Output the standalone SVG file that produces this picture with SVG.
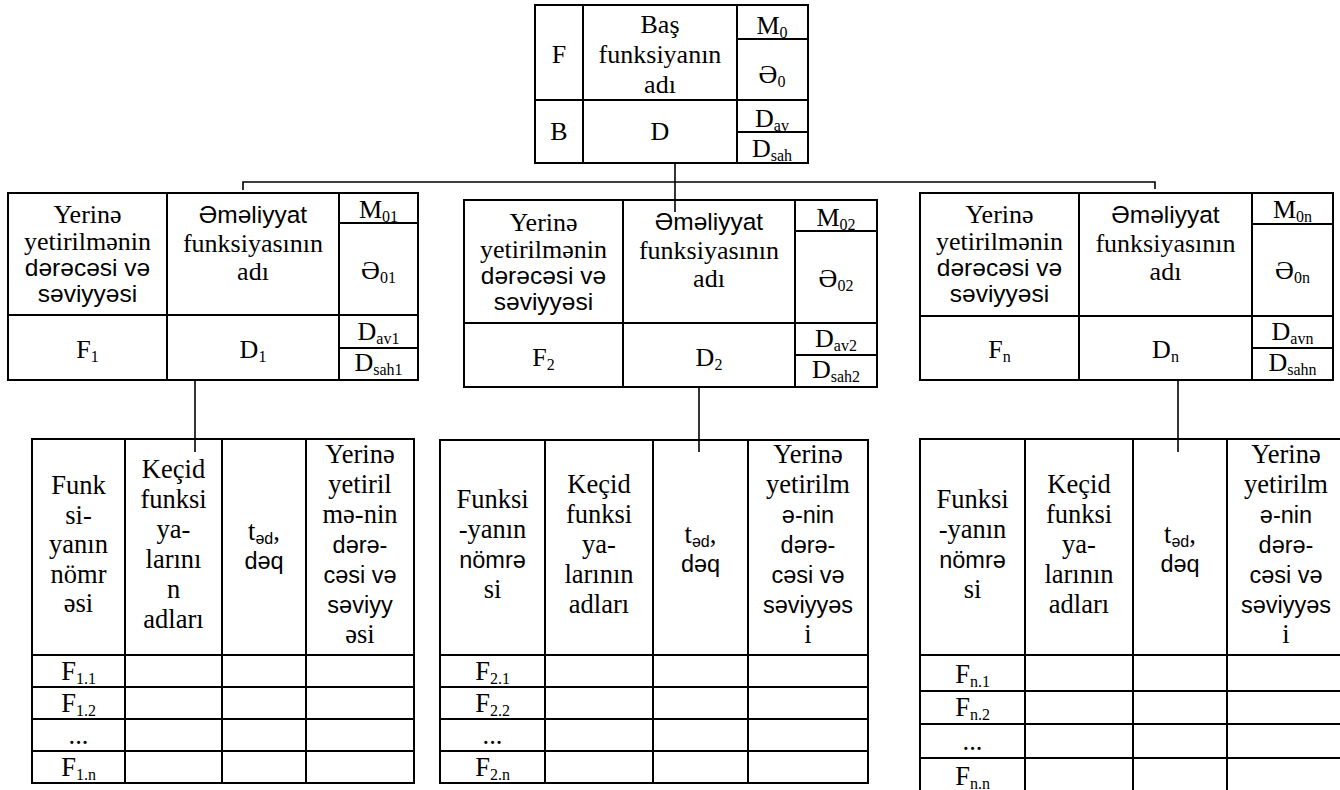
<svg xmlns="http://www.w3.org/2000/svg" width="1340" height="790" viewBox="0 0 1340 790">
  <style>
    text { font-family: "Liberation Serif", "Times New Roman", "DejaVu Serif", serif; font-size: 26px; fill: #000; text-anchor: middle; }
    .b { font-size: 26px; }
    .t { font-size: 26.5px; }
    .a { font-family: "Liberation Sans", Arial, sans-serif; font-size: 24.5px; }
    .at { font-family: "Liberation Sans", Arial, sans-serif; font-size: 23.5px; }
    .sub { font-size: 16px; }
    .grid { fill: none; stroke: #000; stroke-width: 2; }
    .link { fill: none; stroke: #000; stroke-width: 1.6; }
  </style>

  <rect width="1340" height="790" fill="#fff"/>

  <!-- connectors -->
  <g id="connectors" class="link">
    <path d="M675 163V212"/>
    <path d="M243 190V182H1155V189"/>
    <path d="M195 380V452"/>
    <path d="M699 387V452"/>
    <path d="M1178 380V452"/>
  </g>

  <!-- main function -->
  <g id="main-function">
    <path class="grid" d="M535 5H808V163H535Z M583 5V163 M737 5V163 M535 100H808 M737 39H808 M737 132H808"/>
    <text x="559" y="63">F</text>
    <text x="660" y="33">Baş</text>
    <text x="660" y="63">funksiyanın</text>
    <text x="660" y="93">adı</text>
    <text x="772" y="34">M<tspan class="sub" dy="4">0</tspan></text>
    <text x="772" y="83">Ə<tspan class="sub" dy="4">0</tspan></text>
    <text x="559" y="140">B</text>
    <text x="660" y="140">D</text>
    <text x="772" y="127">D<tspan class="sub" dy="4">av</tspan></text>
    <text x="772" y="157">D<tspan class="sub" dy="4">sah</tspan></text>
  </g>

  <!-- operation function 1 -->
  <g id="operation-1" transform="translate(8,193)">
    <path class="grid" d="M0 0H410V187H0Z M159 0V187 M331 0V187 M0 122H410 M331 30H410 M331 155H410"/>
    <text class="b" x="79.5" y="30">Yerinə</text>
    <text class="b" x="79.5" y="57">yetirilmənin</text>
    <text class="a" x="79.5" y="83">dərəcəsi və</text>
    <text class="a" x="79.5" y="109">səviyyəsi</text>
    <text class="a" x="245" y="30">Əməliyyat</text>
    <text class="b" x="245" y="58.5">funksiyasının</text>
    <text class="b" x="245" y="87">adı</text>
    <text x="370.5" y="25">M<tspan class="sub" dy="4">01</tspan></text>
    <text x="370.5" y="86">Ə<tspan class="sub" dy="4">01</tspan></text>
    <text x="79.5" y="165">F<tspan class="sub" dy="4">1</tspan></text>
    <text x="245" y="165">D<tspan class="sub" dy="4">1</tspan></text>
    <text x="370.5" y="147">D<tspan class="sub" dy="4">av1</tspan></text>
    <text x="370.5" y="178">D<tspan class="sub" dy="4">sah1</tspan></text>
  </g>

  <!-- operation function 2 -->
  <g id="operation-2" transform="translate(464,200)">
    <path class="grid" d="M0 0H413V187H0Z M159 0V187 M331 0V187 M0 123H413 M331 31H413 M331 155H413"/>
    <text class="b" x="79.5" y="31">Yerinə</text>
    <text class="b" x="79.5" y="58">yetirilmənin</text>
    <text class="a" x="79.5" y="84">dərəcəsi və</text>
    <text class="a" x="79.5" y="110">səviyyəsi</text>
    <text class="a" x="245" y="30">Əməliyyat</text>
    <text class="b" x="245" y="58.5">funksiyasının</text>
    <text class="b" x="245" y="87">adı</text>
    <text x="372" y="26">M<tspan class="sub" dy="4">02</tspan></text>
    <text x="372" y="87">Ə<tspan class="sub" dy="4">02</tspan></text>
    <text x="79.5" y="166">F<tspan class="sub" dy="4">2</tspan></text>
    <text x="245" y="166">D<tspan class="sub" dy="4">2</tspan></text>
    <text x="372" y="147">D<tspan class="sub" dy="4">av2</tspan></text>
    <text x="372" y="178">D<tspan class="sub" dy="4">sah2</tspan></text>
  </g>

  <!-- operation function n -->
  <g id="operation-n" transform="translate(920,193)">
    <path class="grid" d="M0 0H413V187H0Z M159 0V187 M332 0V187 M0 123H413 M332 31H413 M332 155H413"/>
    <text class="b" x="79.5" y="30">Yerinə</text>
    <text class="b" x="79.5" y="57">yetirilmənin</text>
    <text class="a" x="79.5" y="83">dərəcəsi və</text>
    <text class="a" x="79.5" y="109">səviyyəsi</text>
    <text class="a" x="245.5" y="30">Əməliyyat</text>
    <text class="b" x="245.5" y="58.5">funksiyasının</text>
    <text class="b" x="245.5" y="87">adı</text>
    <text x="372.5" y="25">M<tspan class="sub" dy="4">0n</tspan></text>
    <text x="372.5" y="86">Ə<tspan class="sub" dy="4">0n</tspan></text>
    <text x="79.5" y="165">F<tspan class="sub" dy="4">n</tspan></text>
    <text x="245.5" y="165">D<tspan class="sub" dy="4">n</tspan></text>
    <text x="372.5" y="147">D<tspan class="sub" dy="4">avn</tspan></text>
    <text x="372.5" y="178">D<tspan class="sub" dy="4">sahn</tspan></text>
  </g>

  <!-- transition table 1 -->
  <g id="table-1">
    <path class="grid" d="M32 439H414V783H32Z M125 439V783 M222 439V783 M306 439V783 M32 655H414 M32 687H414 M32 719H414 M32 751H414"/>
    <text class="t" x="78.5" y="494">Funk</text>
    <text class="t" x="78.5" y="523.5">si-</text>
    <text class="t" x="78.5" y="553">yanın</text>
    <text class="t" x="78.5" y="582.5">nömr</text>
    <text class="t" x="78.5" y="612">əsi</text>
    <text class="t" x="173.5" y="478">Keçid</text>
    <text class="t" x="173.5" y="508">funksi</text>
    <text class="t" x="173.5" y="538">ya-</text>
    <text class="t" x="173.5" y="568">larını</text>
    <text class="t" x="173.5" y="598">n</text>
    <text class="t" x="173.5" y="628">adları</text>
    <text class="t" x="264" y="540">t<tspan class="at sub" dy="4">əd</tspan><tspan dy="-4">,</tspan></text>
    <text class="at" x="264" y="569">dəq</text>
    <text class="t" x="360" y="463">Yerinə</text>
    <text class="t" x="360" y="493">yetiril</text>
    <text class="t" x="360" y="523">mə-nin</text>
    <text class="at" x="360" y="553">dərə-</text>
    <text class="at" x="360" y="583">cəsi və</text>
    <text class="at" x="360" y="613">səviyy</text>
    <text class="t" x="360" y="643">əsi</text>
    <text class="t" x="78.5" y="680">F<tspan class="sub" dy="4">1.1</tspan></text>
    <text class="t" x="78.5" y="712">F<tspan class="sub" dy="4">1.2</tspan></text>
    <text class="t" x="78.5" y="744">...</text>
    <text class="t" x="78.5" y="776">F<tspan class="sub" dy="4">1.n</tspan></text>
  </g>

  <!-- transition table 2 -->
  <g id="table-2">
    <path class="grid" d="M440 440H868V783H440Z M545 440V783 M653 440V783 M748 440V783 M440 655H868 M440 687H868 M440 719H868 M440 751H868"/>
    <text class="t" x="492.5" y="508">Funksi</text>
    <text class="t" x="492.5" y="538">-yanın</text>
    <text class="at" x="492.5" y="568">nömrə</text>
    <text class="t" x="492.5" y="598">si</text>
    <text class="t" x="599" y="493">Keçid</text>
    <text class="t" x="599" y="523">funksi</text>
    <text class="t" x="599" y="553">ya-</text>
    <text class="t" x="599" y="583">larının</text>
    <text class="t" x="599" y="613">adları</text>
    <text class="t" x="700.5" y="543">t<tspan class="at sub" dy="4">əd</tspan><tspan dy="-4">,</tspan></text>
    <text class="at" x="700.5" y="572">dəq</text>
    <text class="t" x="808" y="463">Yerinə</text>
    <text class="t" x="808" y="493">yetirilm</text>
    <text class="at" x="808" y="523">ə-nin</text>
    <text class="at" x="808" y="553">dərə-</text>
    <text class="at" x="808" y="583">cəsi və</text>
    <text class="at" x="808" y="613">səviyyəs</text>
    <text class="t" x="808" y="643">i</text>
    <text class="t" x="492.5" y="680">F<tspan class="sub" dy="4">2.1</tspan></text>
    <text class="t" x="492.5" y="712">F<tspan class="sub" dy="4">2.2</tspan></text>
    <text class="t" x="492.5" y="744">...</text>
    <text class="t" x="492.5" y="776">F<tspan class="sub" dy="4">2.n</tspan></text>
  </g>

  <!-- transition table n -->
  <g id="table-n">
    <path class="grid" d="M920 439H1345V795H920Z M1025 439V795 M1133 439V795 M1227 439V795 M920 655H1345 M920 691H1345 M920 724H1345 M920 758H1345"/>
    <text class="t" x="972.5" y="508">Funksi</text>
    <text class="t" x="972.5" y="538">-yanın</text>
    <text class="at" x="972.5" y="568">nömrə</text>
    <text class="t" x="972.5" y="598">si</text>
    <text class="t" x="1079" y="493">Keçid</text>
    <text class="t" x="1079" y="523">funksi</text>
    <text class="t" x="1079" y="553">ya-</text>
    <text class="t" x="1079" y="583">larının</text>
    <text class="t" x="1079" y="613">adları</text>
    <text class="t" x="1180" y="543">t<tspan class="at sub" dy="4">əd</tspan><tspan dy="-4">,</tspan></text>
    <text class="at" x="1180" y="572">dəq</text>
    <text class="t" x="1286" y="463">Yerinə</text>
    <text class="t" x="1286" y="493">yetirilm</text>
    <text class="at" x="1286" y="523">ə-nin</text>
    <text class="at" x="1286" y="553">dərə-</text>
    <text class="at" x="1286" y="583">cəsi və</text>
    <text class="at" x="1286" y="613">səviyyəs</text>
    <text class="t" x="1286" y="643">i</text>
    <text class="t" x="972.5" y="683">F<tspan class="sub" dy="4">n.1</tspan></text>
    <text class="t" x="972.5" y="716">F<tspan class="sub" dy="4">n.2</tspan></text>
    <text class="t" x="972.5" y="750">...</text>
    <text class="t" x="972.5" y="785">F<tspan class="sub" dy="4">n.n</tspan></text>
  </g>
</svg>
